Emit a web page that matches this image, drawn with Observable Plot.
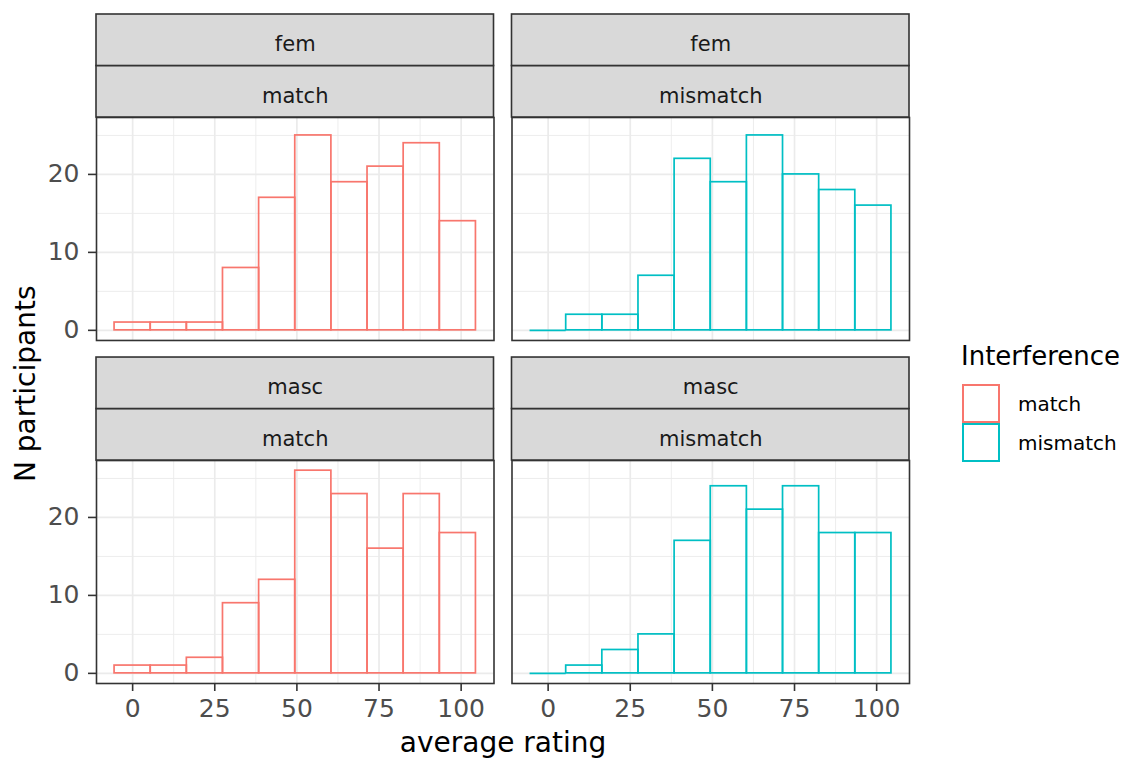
<!DOCTYPE html>
<html>
<head>
<meta charset="utf-8">
<script src="https://cdn.jsdelivr.net/npm/d3@7"></script>
<script src="https://cdn.jsdelivr.net/npm/@observablehq/plot@0.6"></script>
<style>
  body { margin: 0; background: #fff; font-family: "DejaVu Sans", sans-serif; }
  #chart { position: relative; width: 1126px; height: 758px; overflow: hidden; }
  #chart svg { position: absolute; left: 0; top: 0; }
  .ytitle { position: absolute; left: 35px; top: 383px; font-size: 28px; color: #000;
            transform: rotate(-90deg); transform-origin: 0 0; white-space: nowrap; }
  .xtitle { position: absolute; left: 0; width: 1006px; top: 729px; height: 28px; line-height: 28px;
            text-align: center; font-size: 28px; color: #000; white-space: nowrap; }
  .legend { position: absolute; left: 962px; top: 338px; }
  .legend .title { font-size: 26px; color: #000; height: 46px; line-height: 36px; margin-left: -1px; }
  .legend .row { display: flex; align-items: center; height: 39px; }
  .legend .key { width: 34px; height: 35px; border: 2px solid; background: #fff; box-sizing: content-box; }
  .legend .lab { font-size: 20px; margin-left: 18px; color: #000; }
</style>
</head>
<body>
<div id="chart"></div>
<script>
// Facet levels
const genders = ["fem", "masc"];
const interferences = ["match", "mismatch"];

// Histogram bins (centres, width 11)
const binCenters = [0, 11, 22, 33, 44, 55, 66, 77, 88, 99];
const binWidth = 11;

// Participant counts per bin
const femMatch     = [1, 1, 1, 8, 17, 25, 19, 21, 24, 14];
const femMismatch  = [0, 2, 2, 7, 22, 19, 25, 20, 18, 16];
const mascMatch    = [1, 1, 2, 9, 12, 26, 23, 16, 23, 18];
const mascMismatch = [0, 1, 3, 5, 17, 24, 21, 24, 18, 18];

// Interference colours and axis ticks
const colors = ["#F8766D", "#00BFC4"];
const xTicks = [0, 25, 50, 75, 100];
const xMinor = [12.5, 37.5, 62.5, 87.5];
const yTicks = [0, 10, 20];
const yMinor = [5, 15, 25];

const series = {
  fem:  { match: femMatch,  mismatch: femMismatch },
  masc: { match: mascMatch, mismatch: mascMismatch }
};

const bars = [];
for (const gender of genders) {
  for (const interf of interferences) {
    series[gender][interf].forEach((count, i) => {
      bars.push({
        gender, interf, count,
        x1: binCenters[i] - binWidth / 2,
        x2: binCenters[i] + binWidth / 2
      });
    });
  }
}
const panels = genders.flatMap(gender => interferences.map(interf => ({ gender, interf })));

// Scale domains with 5% expansion, as in the default continuous scales
const xLo = binCenters[0] - binWidth / 2;
const xHi = binCenters[binCenters.length - 1] + binWidth / 2;
const xPad = (xHi - xLo) * 0.05;
const yMax = d3.max(bars, d => d.count);
const yPad = yMax * 0.05;
const xDomain = [xLo - xPad, xHi + xPad];
const yDomain = [-yPad, yMax + yPad];

const stripH = 51.5;
const strip = {
  fill: "#D9D9D9", stroke: "#333333", strokeWidth: 1.6,
  fx: "interf", fy: "gender", x1: xDomain[0], x2: xDomain[1],
  y1: yDomain[1], y2: yDomain[1]
};
const stripText = {
  fx: "interf", fy: "gender", frameAnchor: "top", fontSize: 21, fill: "#1A1A1A"
};

const plot = Plot.plot({
  width: 1126,
  height: 758,
  marginLeft: 96,
  marginRight: 217,
  marginTop: 117,
  marginBottom: 75,
  style: { fontFamily: "DejaVu Sans, sans-serif", background: "transparent", overflow: "visible" },
  x: { domain: xDomain },
  y: { domain: yDomain },
  fx: { domain: interferences, paddingInner: 0.0433, paddingOuter: 0, round: false, axis: null, label: null },
  fy: { domain: genders, paddingInner: 0.35, paddingOuter: 0, round: false, axis: null, label: null },
  color: { domain: interferences, range: colors },
  marks: [
    Plot.gridX({ ticks: xMinor, stroke: "#EBEBEB", strokeOpacity: 1, strokeWidth: 0.9 }),
    Plot.gridY({ ticks: yMinor, stroke: "#EBEBEB", strokeOpacity: 1, strokeWidth: 0.9 }),
    Plot.gridX({ ticks: xTicks, stroke: "#EBEBEB", strokeOpacity: 1, strokeWidth: 1.7 }),
    Plot.gridY({ ticks: yTicks, stroke: "#EBEBEB", strokeOpacity: 1, strokeWidth: 1.7 }),
    Plot.rect(bars, {
      fx: "interf", fy: "gender",
      x1: "x1", x2: "x2", y1: 0, y2: "count",
      stroke: "interf", fill: "none", strokeWidth: 1.7
    }),
    // empty bins collapse to a flat outline on the baseline
    Plot.ruleY(bars.filter(d => d.count === 0), {
      fx: "interf", fy: "gender",
      x1: "x1", x2: "x2", y: "count",
      stroke: "interf", strokeWidth: 1.7
    }),
    Plot.frame({ stroke: "#333333", strokeWidth: 1.6 }),
    Plot.axisX({
      ticks: xTicks, tickSize: 8, tickPadding: 8, fontSize: 25,
      stroke: "#333333", strokeWidth: 1.6, fill: "#4D4D4D", label: null
    }),
    Plot.axisY({
      ticks: yTicks, tickSize: 8, tickPadding: 9, fontSize: 25,
      stroke: "#333333", strokeWidth: 1.6, fill: "#4D4D4D", label: null
    }),
    // strip labels: gender on top, interference below
    Plot.rect(panels, { ...strip, insetTop: -stripH }),
    Plot.rect(panels, { ...strip, insetTop: -2 * stripH, insetBottom: stripH }),
    Plot.text(panels, { ...stripText, text: "interf", dy: -stripH / 2 - 4 }),
    Plot.text(panels, { ...stripText, text: "gender", dy: -stripH * 1.5 - 4 })
  ]
});

const chart = document.getElementById("chart");
chart.appendChild(plot);

const yTitle = document.createElement("div");
yTitle.className = "ytitle";
yTitle.textContent = "N participants";
chart.appendChild(yTitle);
// centre the rotated title on its anchor point
yTitle.style.top = (384 + yTitle.offsetWidth / 2) + "px";
yTitle.style.left = (35 - yTitle.offsetHeight * 0.78) + "px";

const xTitle = document.createElement("div");
xTitle.className = "xtitle";
xTitle.textContent = "average rating";
chart.appendChild(xTitle);

const legend = document.createElement("div");
legend.className = "legend";
const lt = document.createElement("div");
lt.className = "title";
lt.textContent = "Interference";
legend.appendChild(lt);
interferences.forEach((name, i) => {
  const row = document.createElement("div");
  row.className = "row";
  const key = document.createElement("div");
  key.className = "key";
  key.style.borderColor = colors[i];
  const lab = document.createElement("div");
  lab.className = "lab";
  lab.textContent = name;
  row.appendChild(key);
  row.appendChild(lab);
  legend.appendChild(row);
});
chart.appendChild(legend);
</script>
</body>
</html>
